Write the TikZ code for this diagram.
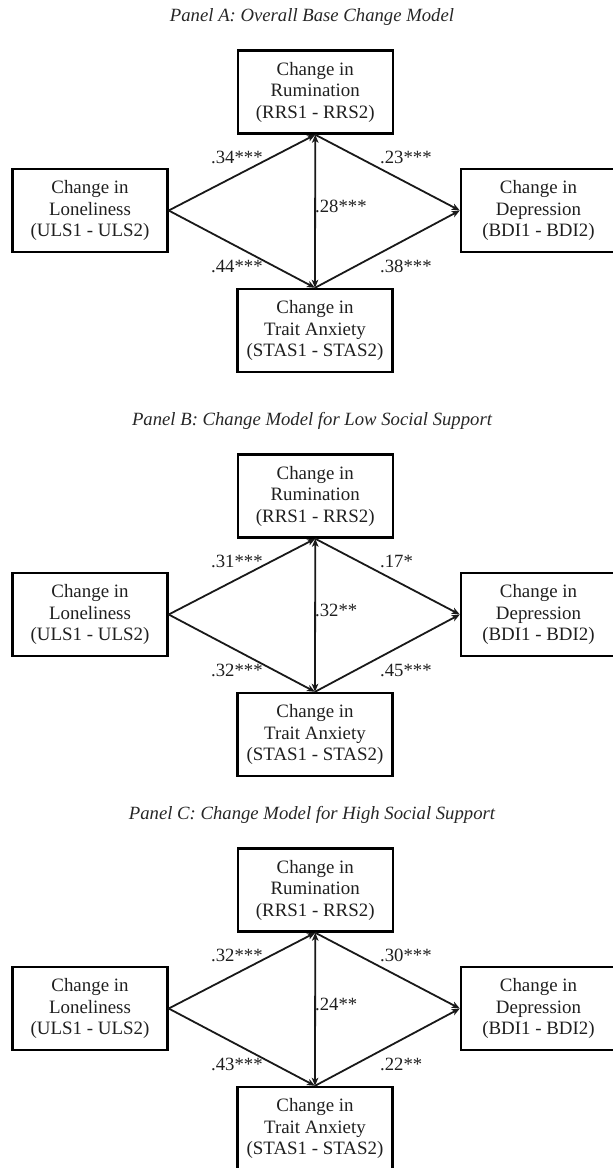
\documentclass[tikz,border=0pt]{standalone}
\usepackage{fontspec}
\setmainfont{Liberation Serif}
\usetikzlibrary{arrows.meta}
\tikzset{
  varbox/.style={draw=black, line width=2.4pt, minimum width=155pt, minimum height=83pt,
    align=center, inner sep=0pt, text=black!88,
    font=\fontsize{18.9}{21.5}\selectfont},
  link/.style={line width=1.8pt, draw=black!90, -{Stealth[length=8pt,width=6.5pt,inset=2pt]}},
  twoway/.style={line width=1.8pt, draw=black!90, {Stealth[length=8pt,width=6.5pt,inset=2pt]}-{Stealth[length=8pt,width=6.5pt,inset=2pt]}},
  coef/.style={anchor=west, inner sep=0pt, text=black!88, font=\fontsize{18.7}{21.5}\selectfont},
  paneltitle/.style={inner sep=0pt, text=black!85, font=\itshape\fontsize{18.7}{22}\selectfont}
}
\newcommand\drawpanel[8]{%
  \begin{scope}[shift={(0,#2)}]
    \node[paneltitle] (title#1) at (312,17) {#3};
    \node[varbox] (rum#1) at (315.25,92) {Change in\\Rumination\\(RRS1 - RRS2)};
    \node[varbox] (lon#1) at (90,210.5) {Change in\\Loneliness\\(ULS1 - ULS2)};
    \node[varbox] (dep#1) at (538.5,210.5) {Change in\\Depression\\(BDI1 - BDI2)};
    \node[varbox] (anx#1) at (315,330.5) {Change in\\Trait Anxiety\\(STAS1 - STAS2)};
    \draw[link] (lon#1.east) -- (rum#1.south);
    \draw[link] (lon#1.east) -- (anx#1.north);
    \draw[link] (rum#1.south) -- (dep#1.west);
    \draw[link] (anx#1.north) -- (dep#1.west);
    \draw[twoway] (rum#1.south) -- (anx#1.north);
    \node[coef] (ca#1) at (211,157) {#4};
    \node[coef] (cb#1) at (380,157) {#5};
    \node[coef] (cc#1) at (315,206) {#6};
    \node[coef] (cd#1) at (211,266) {#7};
    \node[coef] (ce#1) at (380,266) {#8};
  \end{scope}}
\begin{document}
\begin{tikzpicture}[x=1pt,y=-1pt]
  \useasboundingbox (0,0) rectangle (613,1168);
  \drawpanel{A}{0}{Panel A: Overall Base Change Model}{.34***}{.23***}{.28***}{.44***}{.38***}
  \drawpanel{B}{404}{Panel B: Change Model for Low Social Support}{.31***}{.17*}{.32**}{.32***}{.45***}
  \drawpanel{C}{798}{Panel C: Change Model for High Social Support}{.32***}{.30***}{.24**}{.43***}{.22**}
\end{tikzpicture}
\end{document}
